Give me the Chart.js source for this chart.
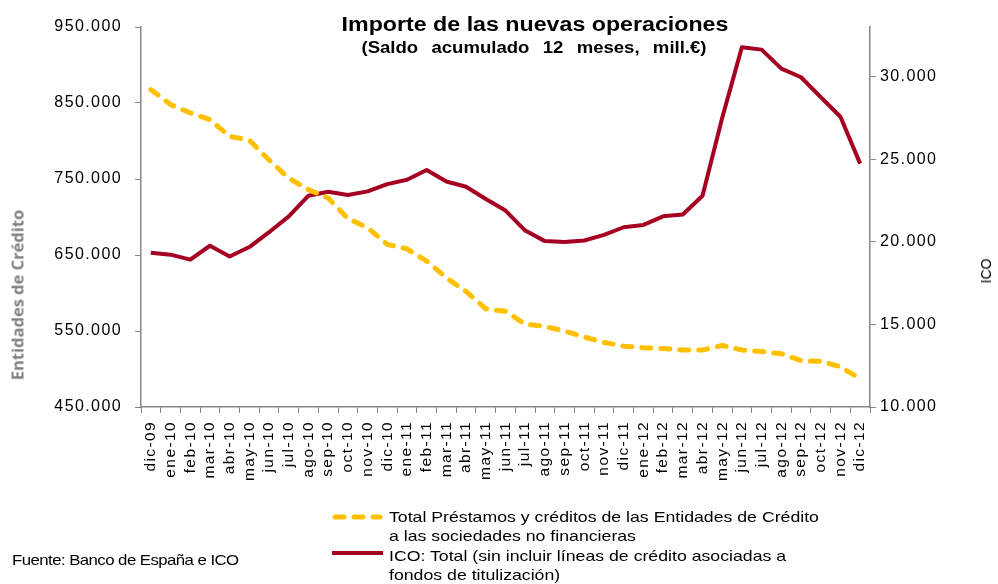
<!DOCTYPE html>
<html lang="es">
<head>
<meta charset="utf-8">
<script src="https://cdn.jsdelivr.net/npm/chart.js@4.4.0/dist/chart.umd.min.js"></script>
<style>
    body { margin: 0; background: #fff; font-family: "Liberation Sans", Arial, sans-serif; }
    #wrap { position: relative; width: 998px; height: 584px; }
    #wrap canvas { position: absolute; left: 0; top: 0; }
    .txt { position: absolute; white-space: nowrap; color: #000; }
    #title { left: 535px; top: 24px; transform: translate(-50%, -50%) scaleX(1.16); font-weight: bold; font-size: 20px; }
    #subtitle { left: 534px; top: 48px; transform: translate(-50%, -50%) scaleX(1.16); font-weight: bold; font-size: 16px; word-spacing: 7px; }
    #ytitle { left: 17px; top: 295px; transform: translate(-50%, -50%) rotate(-90deg);
              font-family: "Open Sans", sans-serif; font-weight: bold; font-size: 16.5px; color: #7f7f7f; }
    #y1title { left: 986px; top: 271px; transform: translate(-50%, -50%) rotate(-90deg); font-size: 14px; }
    #source { left: 12px; top: 551px; font-size: 15px; letter-spacing: -0.5px; transform-origin: 0 0; transform: scaleX(1.12); }
    .leg { position: absolute; left: 332px; font-size: 15px; line-height: 19px; }
    .leg .sw { position: absolute; left: 0; width: 52px; }
    .leg .lab { position: absolute; left: 57px; top: 0; white-space: nowrap; transform-origin: 0 0; transform: scaleX(1.18); }
</style>
</head>
<body>
<div id="wrap">
    <canvas id="myChart" width="998" height="584"></canvas>
    <div id="title" class="txt">Importe de las nuevas operaciones</div>
    <div id="subtitle" class="txt">(Saldo acumulado 12 meses, mill.€)</div>
    <div id="ytitle" class="txt">Entidades de Crédito</div>
    <div id="y1title" class="txt">ICO</div>
    <div id="source" class="txt">Fuente: Banco de España e ICO</div>
    <div class="leg" style="top:507px">
        <svg class="sw" style="top:4px" width="52" height="12"><line x1="3" y1="6" x2="48" y2="6" stroke="#FFC000" stroke-width="5" stroke-dasharray="9 10" stroke-linecap="round"/></svg>
        <div class="lab">Total Préstamos y créditos de las Entidades de Crédito<br>a las sociedades no financieras</div>
    </div>
    <div class="leg" style="top:546px">
        <svg class="sw" style="top:1px" width="52" height="12"><line x1="0" y1="6" x2="51" y2="6" stroke="#A50021" stroke-width="4"/></svg>
        <div class="lab">ICO: Total (sin incluir líneas de crédito asociadas a<br>fondos de titulización)</div>
    </div>
</div>

<script>
var labels = ["dic-09", "ene-10", "feb-10", "mar-10", "abr-10", "may-10", "jun-10", "jul-10", "ago-10", "sep-10",
    "oct-10", "nov-10", "dic-10", "ene-11", "feb-11", "mar-11", "abr-11", "may-11", "jun-11", "jul-11",
    "ago-11", "sep-11", "oct-11", "nov-11", "dic-11", "ene-12", "feb-12", "mar-12", "abr-12", "may-12",
    "jun-12", "jul-12", "ago-12", "sep-12", "oct-12", "nov-12", "dic-12"];

// Entidades de Crédito (eje izquierdo)
var entidades = [867500, 848000, 837000, 828000, 806000, 801000, 775000, 751000, 736000, 725000,
    698000, 686000, 664000, 658000, 642000, 620000, 602000, 579000, 576000, 559000,
    556000, 550000, 542000, 535000, 530000, 528000, 527000, 525000, 525000, 531000,
    525000, 523000, 520000, 511000, 510000, 503000, 487000];

// ICO (eje derecho)
var ico = [19340, 19220, 18920, 19760, 19110, 19680, 20580, 21540, 22790, 23030,
    22830, 23050, 23490, 23750, 24340, 23650, 23330, 22590, 21890, 20680,
    20040, 19980, 20080, 20420, 20880, 21020, 21540, 21650, 22790, 27510,
    31780, 31630, 30480, 29960, 28750, 27570, 24730];

var leftTicks = [450000, 550000, 650000, 750000, 850000, 950000];
var rightTicks = [10000, 15000, 20000, 25000, 30000];

function fmt(v) {
    return v.toString().replace(/\B(?=(\d{3})+(?!\d))/g, '.');
}

function setTicks(list) {
    return function (s) { s.ticks = list.map(function (v) { return { value: v }; }); };
}

var axisColor = "#868686";
var fontFam = "'Liberation Sans', Arial, sans-serif";

// the reference text is a bit wide, spread the canvas letters out
var spacing = {
    id: 'spacing',
    beforeDraw: function (chart) { chart.ctx.letterSpacing = '1.4px'; }
};

var ctx = document.getElementById("myChart").getContext("2d");
var myChart = new Chart(ctx, {
    type: 'line',
    data: {
        labels: labels,
        datasets: [
            {
                label: "Total Préstamos y créditos de las Entidades de Crédito a las sociedades no financieras",
                data: entidades,
                yAxisID: 'y',
                borderColor: "#FFC000",
                borderWidth: 5,
                borderDash: [9, 10],
                borderCapStyle: 'round',
                pointRadius: 0,
                tension: 0
            },
            {
                label: "ICO: Total (sin incluir líneas de crédito asociadas a fondos de titulización)",
                data: ico,
                yAxisID: 'y1',
                borderColor: "#A50021",
                borderWidth: 4,
                borderJoinStyle: 'round',
                pointRadius: 0,
                tension: 0
            }
        ]
    },
    plugins: [spacing],
    options: {
        responsive: false,
        animation: false,
        layout: { padding: { left: 0, right: 0, top: 27, bottom: 97 } },
        plugins: { legend: { display: false }, tooltip: { enabled: false } },
        scales: {
            x: {
                offset: true,
                afterFit: function (s) { s.height = 80; },
                border: { color: axisColor, width: 1.5 },
                grid: { drawOnChartArea: false, color: axisColor, tickLength: 6, offset: true },
                ticks: { color: "#000", font: { family: fontFam, size: 15.5 }, maxRotation: 90, minRotation: 90, autoSkip: false, padding: 8 }
            },
            y: {
                position: 'left',
                min: 450000, max: 950000,
                afterFit: function (s) { s.width = 141; },
                afterBuildTicks: setTicks(leftTicks),
                border: { color: axisColor, width: 1.5 },
                grid: { drawOnChartArea: false, color: axisColor, tickLength: 6 },
                ticks: { color: "#000", font: { family: fontFam, size: 16 }, padding: 13, callback: function (v) { return fmt(v); } }
            },
            y1: {
                position: 'right',
                min: 10000, max: 33000,
                afterFit: function (s) { s.width = 128; },
                afterBuildTicks: setTicks(rightTicks),
                border: { color: axisColor, width: 1.5 },
                grid: { drawOnChartArea: false, color: axisColor, tickLength: 6 },
                ticks: { color: "#000", font: { family: fontFam, size: 16 }, padding: 4, callback: function (v) { return fmt(v); } }
            }
        }
    }
});
</script>
</body>
</html>
